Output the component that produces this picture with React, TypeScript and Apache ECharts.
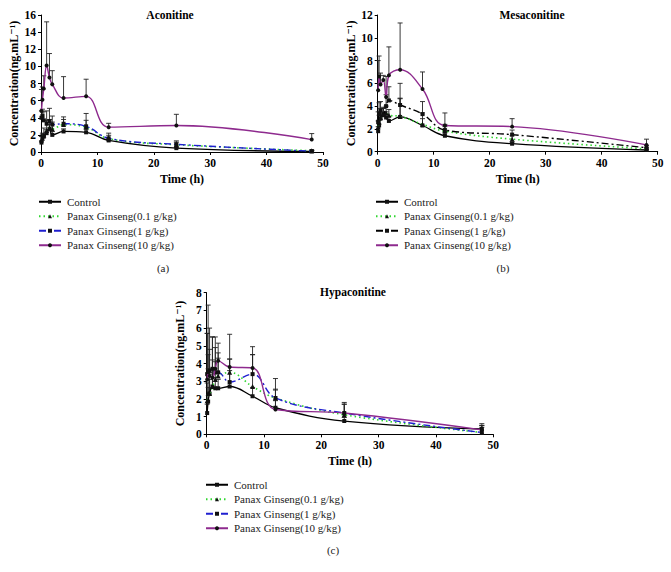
import React, { useEffect, useRef } from "react";
import * as echarts from "echarts";

const times = [0.083, 0.25, 0.5, 1, 1.5, 2, 4, 8, 12, 24, 48];
const seriesNames = ["Control", "Panax Ginseng(0.1 g/kg)", "Panax Ginseng(1 g/kg)", "Panax Ginseng(10 g/kg)"];

// Panel (a) Aconitine
const aControl = [1.1, 1.7, 1.8, 2.2, 2.7, 2.0, 2.4, 2.3, 1.35, 0.45, 0.08];
const aControlSd = [0.2, 0.3, 0.3, 0.4, 0.5, 0.4, 0.3, 0.4, 0.2, 0.1, 0.05];
const aLow = [1.4, 1.6, 2.0, 2.5, 2.8, 2.7, 3.2, 2.9, 1.55, 0.85, 0.15];
const aLowSd = [0.4, 0.6, 0.8, 1.2, 1.0, 0.8, 0.6, 0.8, 0.4, 0.3, 0.05];
const aMid = [4.0, 4.2, 3.7, 3.3, 3.6, 3.2, 3.3, 3.0, 1.6, 0.9, 0.1];
const aMidSd = [0.8, 0.8, 1.0, 1.5, 1.5, 1.0, 0.8, 1.5, 0.6, 0.4, 0.1];
const aHigh = [4.8, 6.1, 7.4, 10.1, 8.7, 7.9, 6.3, 6.5, 2.9, 3.1, 1.45];
const aHighSd = [2.5, 1.5, 1.5, 5.1, 2.8, 1.6, 2.5, 2.0, 0.45, 1.3, 0.7];

// Panel (b) Mesaconitine
const bControl = [1.8, 2.3, 2.9, 3.3, 3.0, 2.7, 3.05, 2.3, 1.4, 0.7, 0.15];
const bControlSd = [0.4, 0.5, 0.6, 0.5, 0.5, 0.4, 1.6, 0.6, 0.3, 0.15, 0.05];
const bLow = [2.2, 2.6, 3.0, 3.3, 3.4, 3.2, 3.1, 2.4, 1.8, 1.1, 0.25];
const bLowSd = [0.5, 0.6, 0.8, 0.6, 0.6, 0.5, 1.6, 1.0, 0.4, 0.3, 0.1];
const bMid = [2.6, 3.3, 3.6, 3.2, 4.0, 4.5, 4.1, 3.3, 1.9, 1.5, 0.35];
const bMidSd = [0.9, 1.0, 0.8, 0.6, 1.0, 1.2, 1.9, 1.1, 0.5, 0.4, 0.2];
const bHigh = [5.4, 6.6, 5.9, 6.3, 4.8, 6.7, 7.2, 5.5, 2.3, 2.2, 0.6];
const bHighSd = [2.6, 1.8, 1.0, 0.4, 1.8, 2.5, 4.1, 1.5, 1.1, 0.7, 0.5];

// Panel (c) Hypaconitine
const cControl = [1.2, 1.85, 2.3, 2.7, 2.6, 2.6, 2.7, 2.15, 1.5, 0.75, 0.3];
const cControlSd = [0.5, 0.8, 0.8, 0.7, 0.6, 0.5, 0.9, 0.5, 0.4, 0.2, 0.1];
const cLow = [1.9, 2.3, 2.3, 2.7, 3.1, 3.3, 3.5, 2.7, 2.05, 1.1, 0.1];
const cLowSd = [1.0, 1.4, 1.2, 1.5, 1.0, 1.0, 0.75, 1.8, 0.5, 0.6, 0.4];
const cMid = [3.4, 3.5, 3.6, 3.7, 3.5, 3.5, 2.95, 3.4, 2.05, 1.2, 0.1];
const cMidSd = [2.3, 1.0, 2.4, 1.8, 2.0, 1.1, 1.3, 1.1, 1.1, 0.5, 0.4];
const cHigh = [3.1, 3.5, 3.3, 3.2, 3.7, 4.15, 3.8, 3.75, 1.4, 1.2, 0.25];
const cHighSd = [2.6, 3.8, 1.5, 2.3, 1.2, 1.0, 1.85, 1.2, 1.1, 0.6, 0.35];

const titles = ["Aconitine", "Mesaconitine", "Hypaconitine"];
const yMax = [16, 12, 8];
const yInterval = [2, 2, 1];
const panelLabels = ["(a)", "(b)", "(c)"];

const SERIF = "Liberation Serif, DejaVu Serif, serif";

const grids = [
  { left: 41, top: 15, width: 282, height: 137 },
  { left: 377.7, top: 15, width: 280, height: 136.7 },
  { left: 206.7, top: 292.7, width: 286.6, height: 141.6 },
];
const legendPos = [
  { left: 38, top: 195 },
  { left: 375, top: 195 },
  { left: 205, top: 478 },
];
const titlePos = [
  { x: 165, y: 4 },
  { x: 527, y: 4 },
  { x: 348, y: 281 },
];
const labelPos = [
  { x: 163, y: 268 },
  { x: 503, y: 268 },
  { x: 333, y: 550 },
];

const panelData = [
  [[aControl, aControlSd], [aLow, aLowSd], [aMid, aMidSd], [aHigh, aHighSd]],
  [[bControl, bControlSd], [bLow, bLowSd], [bMid, bMidSd], [bHigh, bHighSd]],
  [[cControl, cControlSd], [cLow, cLowSd], [cMid, cMidSd], [cHigh, cHighSd]],
];

const GREEN = "#2fd62f";
const BLUE = "#1f1fd0";
const PURPLE = "#8e2a8e";

function styleFor(si: number, panel: number) {
  if (si === 0) return { color: "#000", type: "solid" as any, width: 1.3, symbol: "rect" };
  if (si === 1) return { color: GREEN, type: [1.5, 3] as any, width: 1.6, symbol: "triangle" };
  if (si === 2)
    return { color: panel === 1 ? "#000" : BLUE, type: [7, 3, 2, 3] as any, width: 1.4, symbol: "rect" };
  return { color: PURPLE, type: "solid" as any, width: 1.4, symbol: "circle" };
}

export default function App() {
  const ref = useRef<HTMLDivElement>(null);
  useEffect(() => {
    if (!ref.current) return;
    const chart = echarts.init(ref.current, undefined, { renderer: "svg" });
    const series: any[] = [];
    const legends: any[] = [];
    const xAxes: any[] = [];
    const yAxes: any[] = [];
    const titleComps: any[] = [];
    const graphics: any[] = [];

    for (let p = 0; p < 3; p++) {
      xAxes.push({
        gridIndex: p,
        type: "value",
        min: 0,
        max: 50,
        interval: 10,
        name: "Time (h)",
        nameLocation: "middle",
        nameGap: 21,
        nameTextStyle: { fontFamily: SERIF, fontWeight: "bold", fontSize: 12, color: "#000" },
        axisLine: { lineStyle: { color: "#000", width: 1 } },
        axisTick: { show: true, length: 3, lineStyle: { color: "#000" } },
        axisLabel: { fontFamily: SERIF, fontWeight: "bold", fontSize: 11.5, color: "#000", margin: 5 },
        splitLine: { show: false },
      });
      yAxes.push({
        gridIndex: p,
        type: "value",
        min: 0,
        max: yMax[p],
        interval: yInterval[p],
        name: "Concentration(ng.mL\u207B\u00B9)",
        nameLocation: "middle",
        nameGap: 21,
        nameTextStyle: { fontFamily: SERIF, fontWeight: "bold", fontSize: 12, color: "#000" },
        axisLine: { show: true, lineStyle: { color: "#000", width: 1 } },
        axisTick: { show: true, length: 3, lineStyle: { color: "#000" } },
        axisLabel: { fontFamily: SERIF, fontWeight: "bold", fontSize: 11.5, color: "#000", margin: 5 },
        splitLine: { show: false },
      });
      titleComps.push({
        text: titles[p],
        left: titlePos[p].x,
        top: titlePos[p].y,
        textAlign: "center",
        textStyle: { fontFamily: SERIF, fontWeight: "bold", fontSize: 11.5, color: "#000" },
      });
      graphics.push({
        type: "text",
        x: labelPos[p].x,
        y: labelPos[p].y,
        style: {
          text: panelLabels[p],
          fontFamily: SERIF,
          fontSize: 11,
          fill: "#222",
          align: "center",
          verticalAlign: "middle",
        },
      });

      const errData: any[] = [];
      const legendNames: string[] = [];
      for (let si = 0; si < 4; si++) {
        const [vals, sds] = panelData[p][si];
        const st = styleFor(si, p);
        const name = seriesNames[si] + "#" + p;
        legendNames.push(name);
        series.push({
          type: "line",
          name,
          xAxisIndex: p,
          yAxisIndex: p,
          smooth: 0.4,
          data: times.map((t, i) => [t, vals[i]]),
          symbol: st.symbol,
          symbolSize: st.symbol === "triangle" ? 5 : 4,
          itemStyle: { color: "#111" },
          lineStyle: { color: st.color, width: st.width, type: st.type },
          z: 3 + si,
        });
        times.forEach((t, i) => errData.push([t, vals[i], sds[i]]));
      }
      series.push({
        type: "custom",
        name: "err" + p,
        xAxisIndex: p,
        yAxisIndex: p,
        data: errData,
        encode: { x: 0, y: 1 },
        z: 2,
        silent: true,
        renderItem: (params: any, api: any) => {
          const x = api.value(0);
          const y = api.value(1);
          const s = api.value(2);
          const p0 = api.coord([x, y]);
          const p1 = api.coord([x, y + s]);
          const st = { stroke: "#222", lineWidth: 0.9 };
          return {
            type: "group",
            children: [
              { type: "line", shape: { x1: p0[0], y1: p0[1], x2: p1[0], y2: p1[1] }, style: st },
              { type: "line", shape: { x1: p1[0] - 2.5, y1: p1[1], x2: p1[0] + 2.5, y2: p1[1] }, style: st },
            ],
          };
        },
      });
      legends.push({
        data: legendNames,
        orient: "vertical",
        left: legendPos[p].left,
        top: legendPos[p].top,
        padding: 0,
        itemWidth: 22,
        itemHeight: 5,
        itemGap: 1,
        selectedMode: false,
        formatter: (n: string) => n.split("#")[0],
        textStyle: { fontFamily: SERIF, fontSize: 11, color: "#222", lineHeight: 13.5, padding: [0, 0, 0, 1] },
      });
    }

    chart.setOption({
      animation: false,
      backgroundColor: "#fff",
      title: titleComps,
      grid: grids,
      xAxis: xAxes,
      yAxis: yAxes,
      legend: legends,
      series,
      graphic: graphics,
    });
    return () => chart.dispose();
  }, []);
  return (
    <div
      ref={ref}
      style={{ position: "fixed", left: 0, top: 0, width: 671, height: 572, background: "#fff" }}
    />
  );
}
